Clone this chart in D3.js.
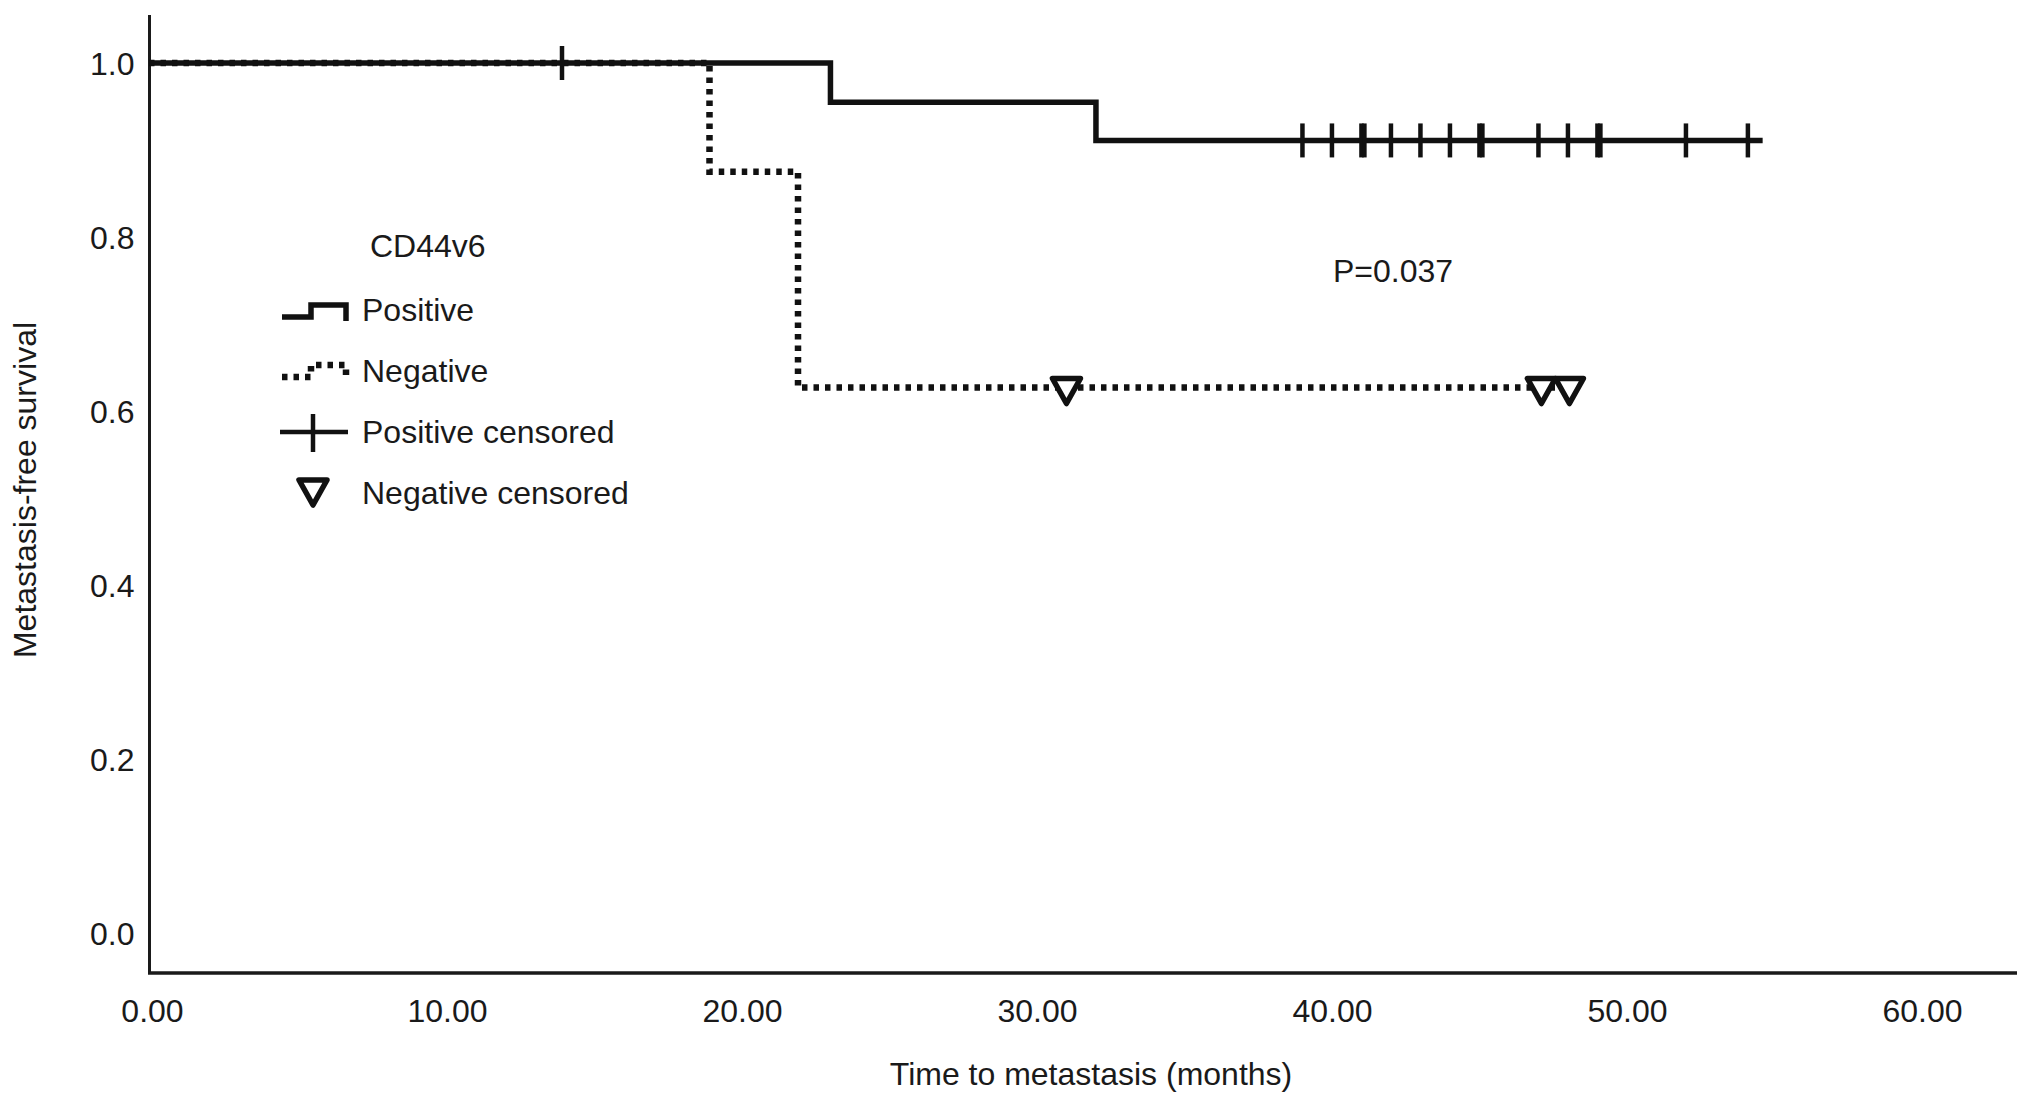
<!DOCTYPE html>
<html>
<head>
<meta charset="utf-8">
<script src="https://cdn.jsdelivr.net/npm/d3@7"></script>
<style>
  body { margin: 0; background: #fff; }
  text { font-family: "Liberation Sans", Arial, sans-serif; fill: #1a1a1a; }
</style>
</head>
<body>
<div id="chart"></div>
<script>
// Kaplan-Meier data (months, survival proportion)
var posEventTimes = [0, 23.1, 32.1]
var posSurvival = [1.0, 0.955, 0.911]
var posLastTime = 54.7
var posCensored = [14.0, 39.1, 40.1, 41.1, 41.2, 42.1, 43.1, 44.1, 45.1, 45.2, 47.1, 48.1, 49.1, 49.2, 52.1, 54.2]

var negEventTimes = [0, 19.0, 22.0]
var negSurvival = [1.0, 0.875, 0.627]
var negLastTime = 48.2
var negCensored = [31.1, 47.2, 48.15]

var xTicks = [0, 10, 20, 30, 40, 50, 60]
var yTicks = [0, 0.2, 0.4, 0.6, 0.8, 1.0]
var legendLabels = ["Positive", "Negative", "Positive censored", "Negative censored"]

var W = 2032, H = 1105

var svg = d3.select("#chart").append("svg").attr("width", W).attr("height", H)

var x = d3.scaleLinear().domain([0, 60]).range([149, 1919])
var y = d3.scaleLinear().domain([0, 1]).range([933, 63])

// survival value at time t (step function)
function survAt(times, surv, t) {
    var i = d3.bisectRight(times, t) - 1
    return surv[Math.max(i, 0)]
}

function stepPoints(times, surv, last) {
    var pts = times.map(function(t, i){ return [t, surv[i]] })
    pts.push([last, surv[surv.length - 1]])
    return pts
}

var line = d3.line()
    .x(function(d){ return x(d[0]) })
    .y(function(d){ return y(d[1]) })
    .curve(d3.curveStepAfter)

/* axes */
svg.append("line").attr("x1", 149.5).attr("x2", 149.5).attr("y1", 15).attr("y2", 974)
    .attr("stroke", "#1a1a1a").attr("stroke-width", 3)
svg.append("line").attr("x1", 148).attr("x2", 2017).attr("y1", 973).attr("y2", 973)
    .attr("stroke", "#1a1a1a").attr("stroke-width", 3.5)

var yAxis = svg.append("g").attr("transform", "translate(149.5,0)")
    .call(d3.axisLeft(y).tickValues(yTicks).tickSize(0).tickPadding(15).tickFormat(d3.format(".1f")))
yAxis.select(".domain").remove()
yAxis.selectAll("text").attr("font-size", 32).attr("dy", "0.36em")
    .style("font-family", '"Liberation Sans", Arial, sans-serif').attr("fill", "#1a1a1a")

var xAxis = svg.append("g").attr("transform", "translate(3,973)")
    .call(d3.axisBottom(x).tickValues(xTicks).tickSize(0).tickPadding(37).tickFormat(d3.format(".2f")))
xAxis.select(".domain").remove()
xAxis.selectAll("text").attr("font-size", 32).attr("dy", "0.36em")
    .style("font-family", '"Liberation Sans", Arial, sans-serif').attr("fill", "#1a1a1a")

svg.append("text").attr("x", 1091).attr("y", 1085).attr("text-anchor", "middle")
    .attr("font-size", 32).text("Time to metastasis (months)")
svg.append("text").attr("transform", "translate(36,490) rotate(-90)").attr("text-anchor", "middle")
    .attr("font-size", 32).text("Metastasis-free survival")

/* curves */
svg.append("path").datum(stepPoints(negEventTimes, negSurvival, negLastTime))
    .attr("d", line).attr("fill", "none").attr("stroke", "#111")
    .attr("stroke-width", 6.5).attr("stroke-dasharray", "5.5,6")

svg.append("path").datum(stepPoints(posEventTimes, posSurvival, posLastTime))
    .attr("d", line).attr("fill", "none").attr("stroke", "#111").attr("stroke-width", 5.5)

// censor marks
svg.selectAll(".poscens").data(posCensored).enter().append("line")
    .attr("class", "poscens")
    .attr("x1", function(d){ return x(d) }).attr("x2", function(d){ return x(d) })
    .attr("y1", function(d){ return y(survAt(posEventTimes, posSurvival, d)) - 17 })
    .attr("y2", function(d){ return y(survAt(posEventTimes, posSurvival, d)) + 17 })
    .attr("stroke", "#111").attr("stroke-width", 4.5)

var tri = "M-14,-9L14,-9L0,16Z"
svg.selectAll(".negcens").data(negCensored).enter().append("path")
    .attr("class", "negcens")
    .attr("transform", function(d){ return "translate(" + x(d) + "," + y(survAt(negEventTimes, negSurvival, d)) + ")" })
    .attr("d", tri).attr("fill", "#fff").attr("stroke", "#111").attr("stroke-width", 5.5)
    .attr("stroke-linejoin", "round")

/* legend */
var lg = svg.append("g")
lg.append("text").attr("x", 370).attr("y", 257).attr("font-size", 32).text("CD44v6")
var rows = [321, 382, 443, 504]
lg.selectAll(".lab").data(legendLabels).enter().append("text")
    .attr("class", "lab")
    .attr("x", 362).attr("y", function(d, i){ return rows[i] })
    .attr("font-size", 32).text(function(d){ return d })

lg.append("path").attr("d", "M282,317H311V305H346V321")
    .attr("fill", "none").attr("stroke", "#111").attr("stroke-width", 5.5)
lg.append("path").attr("d", "M282,377H311V365H346V381")
    .attr("fill", "none").attr("stroke", "#111").attr("stroke-width", 6.5).attr("stroke-dasharray", "5.5,6")
lg.append("line").attr("x1", 280).attr("x2", 348).attr("y1", 432).attr("y2", 432)
    .attr("stroke", "#111").attr("stroke-width", 4.5)
lg.append("line").attr("x1", 313).attr("x2", 313).attr("y1", 414).attr("y2", 452)
    .attr("stroke", "#111").attr("stroke-width", 4.5)
lg.append("path").attr("transform", "translate(313,489)").attr("d", tri)
    .attr("fill", "#fff").attr("stroke", "#111").attr("stroke-width", 5.5).attr("stroke-linejoin", "round")

svg.append("text").attr("x", 1333).attr("y", 282).attr("font-size", 32).text("P=0.037")
</script>
</body>
</html>
